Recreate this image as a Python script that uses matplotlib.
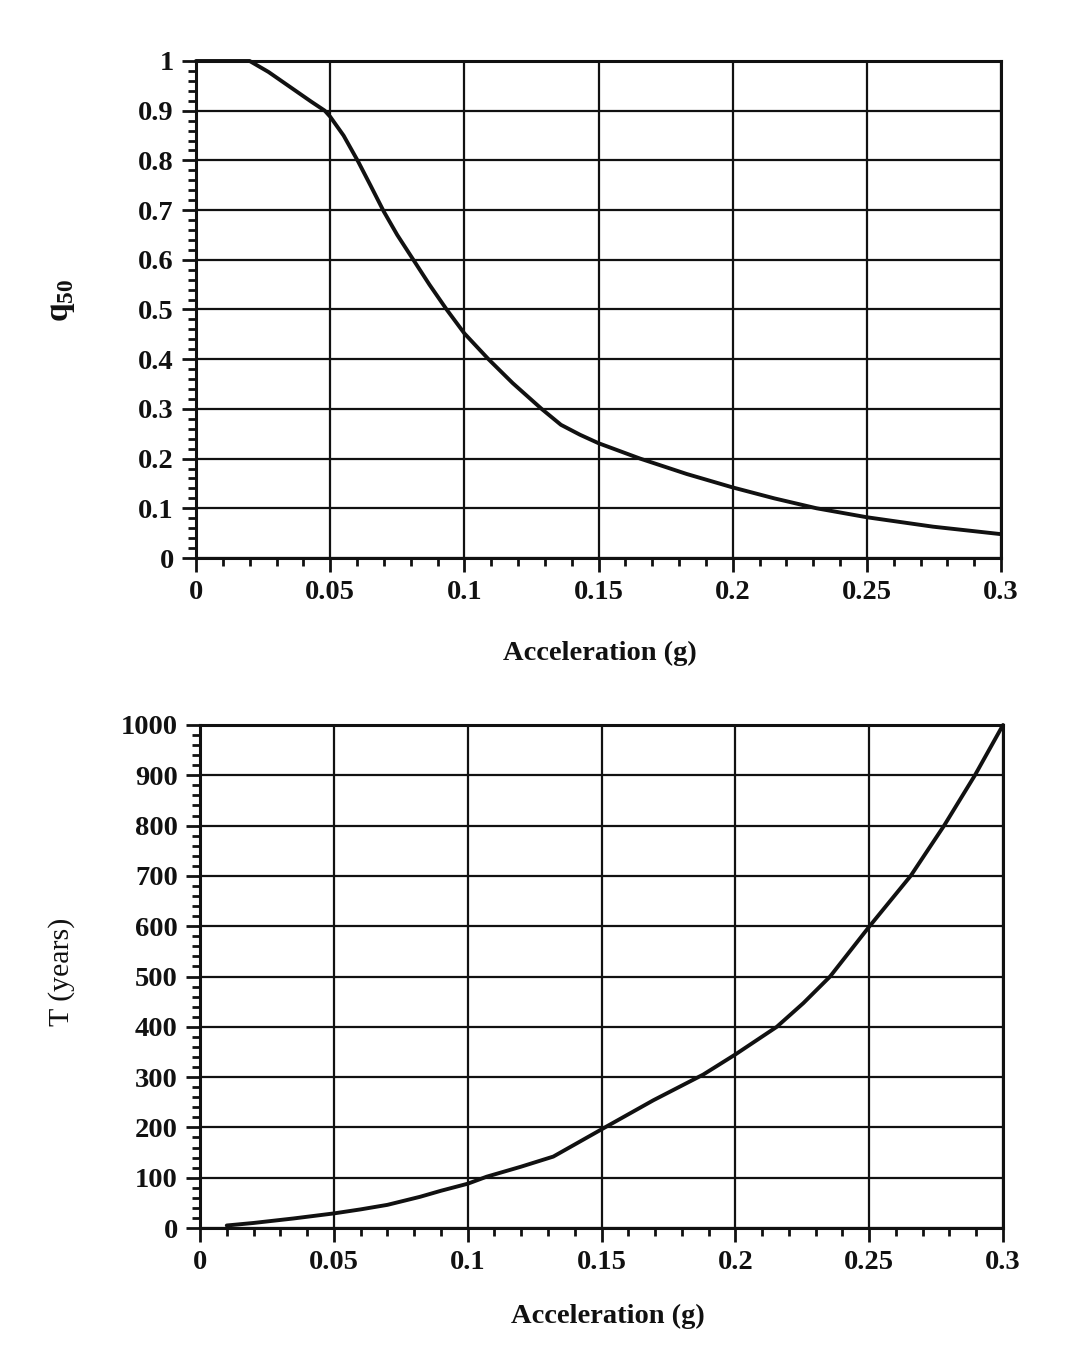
import matplotlib
matplotlib.use("Agg")
import matplotlib.pyplot as plt
from matplotlib.ticker import MultipleLocator

# Data
acc_q = [0.0, 0.02, 0.027, 0.035, 0.043, 0.048, 0.05, 0.055, 0.0605, 0.065, 0.07, 0.075,
         0.081, 0.087, 0.0934, 0.1, 0.109, 0.118, 0.1288, 0.136, 0.1431, 0.15, 0.1655,
         0.1829, 0.2, 0.2155, 0.2313, 0.25, 0.2747, 0.3]
q50 = [1.0, 1.0, 0.978, 0.948, 0.918, 0.900, 0.888, 0.850, 0.797, 0.750, 0.697, 0.650,
       0.600, 0.550, 0.500, 0.452, 0.400, 0.352, 0.300, 0.268, 0.248, 0.231, 0.200,
       0.169, 0.142, 0.120, 0.100, 0.082, 0.063, 0.048]

acc_t = [0.01, 0.02, 0.035, 0.05, 0.06, 0.07, 0.0822, 0.09, 0.1, 0.1071, 0.12, 0.132,
         0.1513, 0.1694, 0.188, 0.2, 0.2155, 0.2254, 0.2354, 0.25, 0.2655, 0.278,
         0.2895, 0.3]
t_years = [5, 10, 19, 29, 37, 46, 62, 74, 88, 102, 122, 142, 200, 254, 305, 345, 400,
           447, 500, 599, 700, 800, 900, 1000]

x_ticks = [0, 0.05, 0.1, 0.15, 0.2, 0.25, 0.3]
x_labels = ["0", "0.05", "0.1", "0.15", "0.2", "0.25", "0.3"]
q_ticks = [0, 0.1, 0.2, 0.3, 0.4, 0.5, 0.6, 0.7, 0.8, 0.9, 1.0]
q_labels = ["0", "0.1", "0.2", "0.3", "0.4", "0.5", "0.6", "0.7", "0.8", "0.9", "1"]
t_ticks = [0, 100, 200, 300, 400, 500, 600, 700, 800, 900, 1000]
t_labels = [str(v) for v in t_ticks]

plt.rcParams['font.family'] = ['Liberation Serif', 'DejaVu Serif']
plt.rcParams['mathtext.fontset'] = 'custom'
plt.rcParams['mathtext.rm'] = 'Liberation Serif'
plt.rcParams['mathtext.bf'] = 'Liberation Serif:bold'

INK = '#111111'

fig = plt.figure(figsize=(10.75, 13.66), dpi=100)
ax1 = fig.add_axes([196/1075, 1-558/1366, 805/1075, 497/1366])
ax2 = fig.add_axes([200/1075, 1-1228/1366, 803/1075, 503/1366])

def style(ax, yticks, ylabels, yminor, ylim):
    ax.set_xlim(0, 0.3)
    ax.set_ylim(*ylim)
    ax.set_xticks(x_ticks)
    ax.set_xticklabels(x_labels)
    ax.set_yticks(yticks)
    ax.set_yticklabels(ylabels)
    ax.xaxis.set_minor_locator(MultipleLocator(0.01))
    ax.yaxis.set_minor_locator(MultipleLocator(yminor))
    ax.grid(True, which='major', color=INK, linewidth=1.6)
    ax.tick_params(which='major', direction='out', length=10, width=2,
                   labelsize=20.5, pad=6, colors=INK)
    ax.tick_params(which='minor', direction='out', length=6, width=2,
                   colors=INK)
    for lab in ax.get_xticklabels() + ax.get_yticklabels():
        lab.set_fontweight('bold')
    for s in ax.spines.values():
        s.set_linewidth(2.2)
        s.set_color(INK)
    ax.set_axisbelow(True)

ax1.plot(acc_q, q50, color=INK, linewidth=2.8, clip_on=False, zorder=5,
         solid_joinstyle='round', solid_capstyle='round')
style(ax1, q_ticks, q_labels, 0.02, (0, 1))

ax2.plot(acc_t, t_years, color=INK, linewidth=2.8, clip_on=False, zorder=5,
         solid_joinstyle='round', solid_capstyle='round')
style(ax2, t_ticks, t_labels, 20, (0, 1000))

fig.text(600/1075, 1-653/1366, "Acceleration (g)", ha='center', va='center',
         fontsize=20.5, fontweight='bold', color=INK)
fig.text(608/1075, 1-1316/1366, "Acceleration (g)", ha='center', va='center',
         fontsize=20.5, fontweight='bold', color=INK)
fig.text(62/1075, 1-300/1366, r"$\mathbf{q}_{\mathbf{50}}$", ha='center', va='center',
         rotation=90, fontsize=24, color=INK)
fig.text(62/1075, 1-972/1366, "T (years)", ha='center', va='center',
         rotation=90, fontsize=21.5, color=INK)

fig.savefig("out.png", dpi=100, facecolor='white')
